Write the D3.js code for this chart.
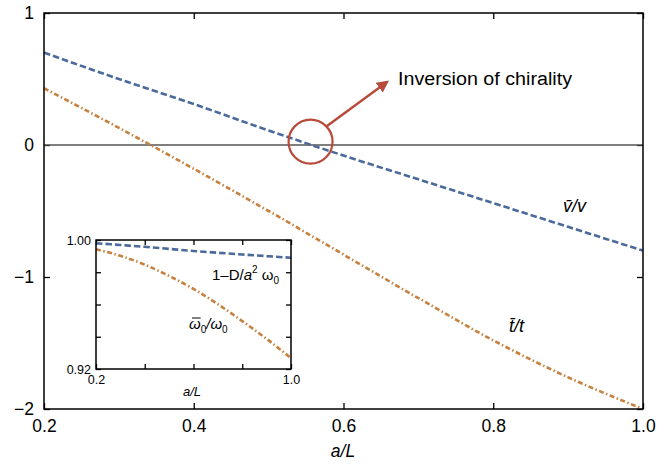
<!DOCTYPE html>
<html>
<head>
<meta charset="utf-8">
<script src="https://cdn.jsdelivr.net/npm/d3@7"></script>
<style>
  body { margin: 0; background: #fff; }
  svg { font-family: "Liberation Sans", Arial, sans-serif; }
</style>
</head>
<body>
<div id="chart"></div>
<script>
// main panel
const aMain = [0.2, 0.3, 0.4, 0.5, 0.6, 0.7, 0.8, 0.9, 1.0];
const velRatio = [0.70, 0.50, 0.31, 0.11, -0.08, -0.26, -0.44, -0.62, -0.80];
const hopRatio = [0.43, 0.13, -0.18, -0.50, -0.83, -1.16, -1.48, -1.76, -2.00];
const xTicksMain = [0.2, 0.4, 0.6, 0.8, 1.0];
const yTicksMain = [1, 0, -1, -2];

// inset
const aInset = [0.2, 0.3, 0.4, 0.5, 0.6, 0.7, 0.8, 0.9, 1.0];
const freqApprox = [0.998, 0.9969, 0.9958, 0.9945, 0.9932, 0.9921, 0.991, 0.9900, 0.989];
const freqRatio = [0.9942, 0.9902, 0.9847, 0.9777, 0.9697, 0.9602, 0.9497, 0.9387, 0.9267];
const xTicksInset = [0.2, 0.4, 0.6, 0.8, 1.0];
const yTicksInset = [0.92, 0.94, 0.96, 0.98, 1.00];

const blue = "#4b6a9c", orange = "#c7813f", red = "#b84a3a";

const svg = d3.select("#chart").append("svg")
    .attr("width", 672)
    .attr("height", 464);

svg.append("defs").append("marker")
    .attr("id", "head")
    .attr("viewBox", "0 0 10 10")
    .attr("refX", 8).attr("refY", 5)
    .attr("markerWidth", 5).attr("markerHeight", 5)
    .attr("markerUnits", "strokeWidth")
    .attr("orient", "auto")
  .append("path")
    .attr("d", "M0,0 L10,5 L0,10 z")
    .attr("fill", red);

// ---- main plot ----
const x = d3.scaleLinear().domain([0.2, 1.0]).range([44, 643]);
const y = d3.scaleLinear().domain([-2, 1]).range([409, 13]);

function styleAxis(g) {
  g.select(".domain").remove();
  g.selectAll(".tick line").attr("stroke", "#000").attr("stroke-width", 1.3);
}

svg.append("g").attr("transform", "translate(0,409)")
  .call(d3.axisBottom(x).tickValues(xTicksMain).tickSize(-6).tickSizeOuter(0).tickPadding(11).tickFormat(d3.format(".1f")))
  .call(styleAxis)
  .selectAll("text").attr("font-size", 17.5).attr("fill", "#000")
    .style("font-family", "Liberation Sans, Arial, sans-serif");

svg.append("g").attr("transform", "translate(0,13)")
  .call(d3.axisTop(x).tickValues(xTicksMain).tickSize(-6).tickSizeOuter(0).tickFormat(""))
  .call(styleAxis);

svg.append("g").attr("transform", "translate(44,0)")
  .call(d3.axisLeft(y).tickValues(yTicksMain).tickSize(-6).tickSizeOuter(0).tickPadding(10).tickFormat(d3.format("d")))
  .call(styleAxis)
  .selectAll("text").attr("font-size", 17.5).attr("fill", "#000")
    .style("font-family", "Liberation Sans, Arial, sans-serif");

svg.append("g").attr("transform", "translate(643,0)")
  .call(d3.axisRight(y).tickValues(yTicksMain).tickSize(-6).tickSizeOuter(0).tickFormat(""))
  .call(styleAxis);

// zero line
svg.append("line")
    .attr("x1", x(0.2)).attr("x2", x(1.0))
    .attr("y1", y(0)).attr("y2", y(0))
    .attr("stroke", "#555").attr("stroke-width", 1.5);

const lineMain = d3.line().x((d, i) => x(aMain[i])).y(d => y(d)).curve(d3.curveMonotoneX);

svg.append("path").datum(velRatio)
    .attr("d", lineMain)
    .attr("fill", "none").attr("stroke", blue).attr("stroke-width", 2.6)
    .attr("stroke-dasharray", "6.5,3");

svg.append("path").datum(hopRatio)
    .attr("d", lineMain)
    .attr("fill", "none").attr("stroke", orange).attr("stroke-width", 2.6)
    .attr("stroke-dasharray", "5,2.5,1.5,2.5");

svg.append("rect")
    .attr("x", 44).attr("y", 13).attr("width", 643 - 44).attr("height", 409 - 13)
    .attr("fill", "none").attr("stroke", "#000").attr("stroke-width", 1.5);

// labels
svg.append("text").attr("x", 343).attr("y", 457).attr("text-anchor", "middle")
    .attr("font-size", 17.5).attr("font-style", "italic").text("a/L");

svg.append("text").attr("x", 563).attr("y", 212)
    .attr("font-size", 18).attr("font-style", "italic").text("v\u0304/v");

svg.append("text").attr("x", 509).attr("y", 332)
    .attr("font-size", 18).attr("font-style", "italic").text("t\u0304/t");

// inversion annotation
svg.append("circle")
    .attr("cx", x(0.556)).attr("cy", y(0.025)).attr("r", 22)
    .attr("fill", "none").attr("stroke", red).attr("stroke-width", 2.2);

svg.append("line")
    .attr("x1", 327).attr("y1", 126).attr("x2", 387).attr("y2", 82)
    .attr("stroke", red).attr("stroke-width", 2.4)
    .attr("marker-end", "url(#head)");

svg.append("text").attr("x", 398).attr("y", 85)
    .attr("font-size", 18).attr("textLength", 174).attr("lengthAdjust", "spacingAndGlyphs")
    .text("Inversion of chirality");

// ---- inset ----
const xi = d3.scaleLinear().domain([0.2, 1.0]).range([96, 291]);
const yi = d3.scaleLinear().domain([0.92, 1.0]).range([369, 240]);

const inset = svg.append("g");

inset.append("rect")
    .attr("x", 96).attr("y", 240).attr("width", 291 - 96).attr("height", 369 - 240)
    .attr("fill", "#fff");

inset.append("g").attr("transform", "translate(0,369)")
  .call(d3.axisBottom(xi).tickValues(xTicksInset).tickSize(-5).tickSizeOuter(0).tickPadding(6)
    .tickFormat(d => (d === 0.2 || d === 1.0) ? d3.format(".1f")(d) : ""))
  .call(styleAxis)
  .selectAll("text").attr("font-size", 12.5).attr("fill", "#000")
    .style("font-family", "Liberation Sans, Arial, sans-serif");

inset.append("g").attr("transform", "translate(0,240)")
  .call(d3.axisTop(xi).tickValues(xTicksInset).tickSize(-5).tickSizeOuter(0).tickFormat(""))
  .call(styleAxis);

inset.append("g").attr("transform", "translate(96,0)")
  .call(d3.axisLeft(yi).tickValues(yTicksInset).tickSize(-5).tickSizeOuter(0).tickPadding(5)
    .tickFormat(d => (Math.abs(d - 0.92) < 1e-9 || Math.abs(d - 1) < 1e-9) ? d3.format(".2f")(d) : ""))
  .call(styleAxis)
  .selectAll("text").attr("font-size", 12.5).attr("fill", "#000")
    .style("font-family", "Liberation Sans, Arial, sans-serif");

inset.append("g").attr("transform", "translate(291,0)")
  .call(d3.axisRight(yi).tickValues(yTicksInset).tickSize(-5).tickSizeOuter(0).tickFormat(""))
  .call(styleAxis);

const lineInset = d3.line().x((d, i) => xi(aInset[i])).y(d => yi(d)).curve(d3.curveMonotoneX);

inset.append("path").datum(freqApprox)
    .attr("d", lineInset)
    .attr("fill", "none").attr("stroke", blue).attr("stroke-width", 2.6)
    .attr("stroke-dasharray", "6.5,3");

inset.append("path").datum(freqRatio)
    .attr("d", lineInset)
    .attr("fill", "none").attr("stroke", orange).attr("stroke-width", 2.6)
    .attr("stroke-dasharray", "5,2.5,1.5,2.5");

inset.append("rect")
    .attr("x", 96).attr("y", 240).attr("width", 291 - 96).attr("height", 369 - 240)
    .attr("fill", "none").attr("stroke", "#000").attr("stroke-width", 1.5);

inset.append("text").attr("x", 192).attr("y", 396).attr("text-anchor", "middle")
    .attr("font-size", 13).attr("font-style", "italic").text("a/L");

const lab1 = inset.append("text").attr("x", 212).attr("y", 280).attr("font-size", 15);
lab1.append("tspan").text("1\u2013D/");
lab1.append("tspan").attr("font-style", "italic").text("a");
lab1.append("tspan").attr("font-size", 10).attr("dy", -7).text("2");
lab1.append("tspan").attr("dy", 7).text(" \u03c9");
lab1.append("tspan").attr("font-size", 10).attr("dy", 4).text("0");

const lab2 = inset.append("text").attr("x", 189).attr("y", 329).attr("font-size", 15)
    .attr("font-style", "italic");
lab2.append("tspan").text("\u03c9");
lab2.append("tspan").attr("font-size", 10).attr("dy", 4).attr("font-style", "normal").text("0");
lab2.append("tspan").attr("dy", -4).text("/\u03c9");
lab2.append("tspan").attr("font-size", 10).attr("dy", 4).attr("font-style", "normal").text("0");

// bar over the first omega
const ext = lab2.node().getExtentOfChar(0);
inset.append("line")
    .attr("x1", ext.x + 3).attr("x2", ext.x + ext.width)
    .attr("y1", 318).attr("y2", 318)
    .attr("stroke", "#000").attr("stroke-width", 1);
</script>
</body>
</html>
